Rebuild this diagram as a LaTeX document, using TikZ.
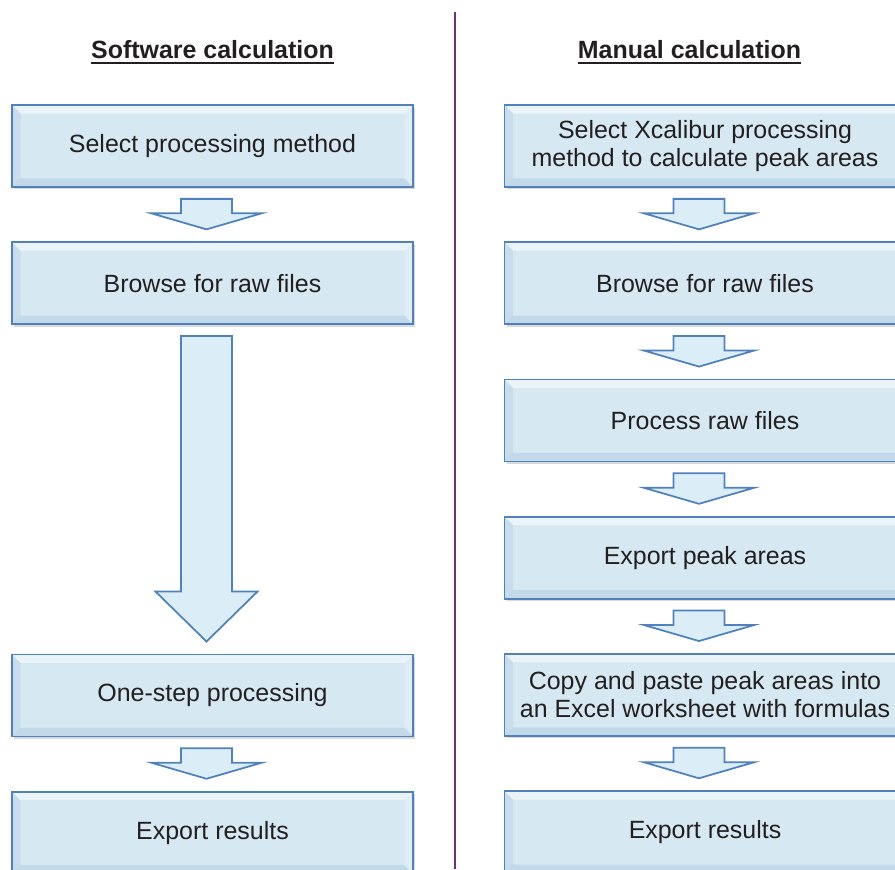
\documentclass[tikz,border=0pt]{standalone}
\usepackage{fontspec}
\setmainfont{Liberation Sans}
\usetikzlibrary{positioning,calc,shadows}

\definecolor{boxfill}{RGB}{214,232,241}
\definecolor{boxline}{RGB}{79,129,189}
\definecolor{arrfill}{RGB}{219,238,247}
\definecolor{divider}{RGB}{112,48,128}
\definecolor{ink}{RGB}{35,31,32}

\tikzset{
  stepbox/.style={draw=boxline, line width=1pt, fill=boxfill, text=ink,
    minimum width=8.02cm, minimum height=1.64cm, inner sep=0pt,
    align=center, font=\fontsize{14.2}{16}\selectfont,
    drop shadow={opacity=.3, shadow xshift=.04cm, shadow yshift=-.05cm},
    path picture={
      % bevel: light top and right, darker left and bottom
      \fill[white,opacity=.5] (path picture bounding box.north west) -- (path picture bounding box.north east)
        -- ++(-.17cm,-.17cm) -- ($(path picture bounding box.north west)+(.17cm,-.17cm)$) -- cycle;
      \fill[white,opacity=.25] (path picture bounding box.north east) -- (path picture bounding box.south east)
        -- ++(-.17cm,.17cm) -- ($(path picture bounding box.north east)+(-.17cm,-.17cm)$) -- cycle;
      \fill[boxline,opacity=.1] (path picture bounding box.north west) -- (path picture bounding box.south west)
        -- ++(.17cm,.17cm) -- ($(path picture bounding box.north west)+(.17cm,-.17cm)$) -- cycle;
      \fill[boxline,opacity=.14] (path picture bounding box.south west) -- (path picture bounding box.south east)
        -- ++(-.17cm,.17cm) -- ($(path picture bounding box.south west)+(.17cm,.17cm)$) -- cycle;
    }},
  heading/.style={inner sep=0pt, anchor=base, text=ink, font=\fontsize{14.2}{16}\selectfont\bfseries},
  blockarr/.style={draw=boxline, line width=1pt, fill=arrfill, line join=miter},
  node distance=1.07cm
}

% hollow block arrow from one box to the next: from, to, head length, head half width
\newcommand{\blockarrow}[4]{%
  \coordinate (top) at ($(#1.south)+(-6,11)$);
  \coordinate (tip) at ($(#2.north)+(-6,-12)$);
  \coordinate (neck) at ($(tip)+(0,-#3)$);
  \draw[blockarr] ($(top)+(-25.5,0)$) -- ($(top)+(25.5,0)$) -- ($(neck)+(25.5,0)$)
    -- ($(neck)+(#4,0)$) -- (tip) -- ($(neck)+(-#4,0)$) -- ($(neck)+(-25.5,0)$) -- cycle;
}

\begin{document}
\begin{tikzpicture}[x=0.02cm, y=-0.02cm]
    \useasboundingbox (0,0) rectangle (895,869);
    \clip (0,0) rectangle (895,869);

    % Divider between the two columns
    \draw[divider, line width=0.9pt] (455,12) -- (455,869);

    % Column headings
    \node[heading] (soft) at (212.5,58) {Software calculation};
    \node[heading] (manu) at (689.5,58) {Manual calculation};
    \draw[ink, line width=1.1pt] ($(soft.base west)+(0,5)$) -- ($(soft.base east)+(0,5)$);
    \draw[ink, line width=1.1pt] ($(manu.base west)+(0,5)$) -- ($(manu.base east)+(0,5)$);

    % Software calculation steps
    \node[stepbox] (s1) at (212.5,146) {Select processing method};
    \node[stepbox, below=of s1] (s2) {Browse for raw files};
    \node[stepbox, below=6.57cm of s2] (s3) {One-step processing};
    \node[stepbox, below=of s3] (s4) {Export results};

    % Manual calculation steps
    \node[stepbox] (m1) at (705,146) {Select Xcalibur processing\\method to calculate peak areas};
    \node[stepbox, below=of m1] (m2) {Browse for raw files};
    \node[stepbox, below=of m2] (m3) {Process raw files};
    \node[stepbox, below=of m3] (m4) {Export peak areas};
    \node[stepbox, below=of m4] (m5) {Copy and paste peak areas into\\an Excel worksheet with formulas};
    \node[stepbox, below=of m5] (m6) {Export results};

    % Arrows
    \blockarrow{s1}{s2}{16}{55}
    \blockarrow{s2}{s3}{50}{51}
    \blockarrow{s3}{s4}{16}{55}
    \blockarrow{m1}{m2}{16}{55}
    \blockarrow{m2}{m3}{16}{55}
    \blockarrow{m3}{m4}{16}{55}
    \blockarrow{m4}{m5}{16}{55}
    \blockarrow{m5}{m6}{16}{55}
\end{tikzpicture}
\end{document}
